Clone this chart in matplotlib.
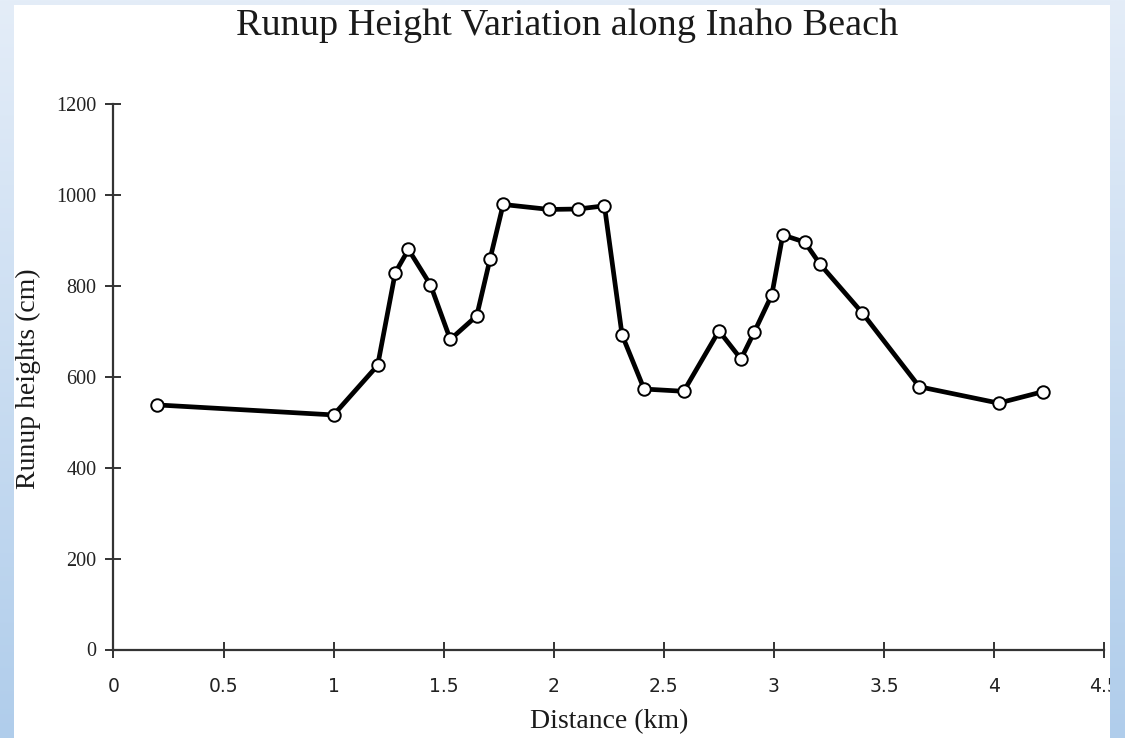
import matplotlib
matplotlib.use("Agg")
import matplotlib.pyplot as plt
import numpy as np
from matplotlib.patches import Rectangle

# ---- data ----
distance_km = [0.20, 1.00, 1.20, 1.28, 1.34, 1.44, 1.53, 1.65, 1.71, 1.77,
               1.98, 2.11, 2.23, 2.31, 2.41, 2.59, 2.75, 2.85, 2.91, 2.99,
               3.04, 3.14, 3.21, 3.40, 3.66, 4.02, 4.22]
runup_cm = [538, 516, 625, 829, 880, 802, 682, 734, 858, 979,
            968, 969, 976, 692, 573, 568, 701, 639, 698, 780,
            912, 896, 847, 741, 578, 542, 567]
x_ticks = [0, 0.5, 1, 1.5, 2, 2.5, 3, 3.5, 4, 4.5]
x_tick_labels = ['0', '0.5', '1', '1.5', '2', '2.5', '3', '3.5', '4', '4.5']
y_ticks = [0, 200, 400, 600, 800, 1000, 1200]
y_tick_labels = ['0', '200', '400', '600', '800', '1000', '1200']

W, H = 1125, 738
fig = plt.figure(figsize=(W / 100, H / 100), dpi=100)

# background gradient
top = np.array([228, 237, 248]) / 255
bot = np.array([176, 205, 235]) / 255
t = np.linspace(0, 1, 256)[:, None]
grad = (top * (1 - t) + bot * t)[:, None, :]
grad = np.repeat(grad, 2, axis=1)

bg = fig.add_axes([0, 0, 1, 1], zorder=-10)
bg.imshow(grad, extent=[0, 1, 0, 1], aspect='auto')
bg.set_xlim(0, 1); bg.set_ylim(0, 1)
bg.axis('off')
bg.add_patch(Rectangle((14 / W, 0), (1110 - 14) / W, (H - 5) / H,
                       facecolor='white', edgecolor='none'))

serif = ['Liberation Serif', 'DejaVu Serif']

ax = fig.add_axes([113.4 / W, 1 - 649.5 / H, (1104.3 - 113.4) / W, (649.5 - 104) / H])
ax.patch.set_alpha(0)
ax.plot(distance_km, runup_cm, '-o', color='black', lw=3.4, ms=9, 
        mfc='white', mec='black', mew=1.4, clip_on=False, zorder=3)
ax.set_xlim(0, 4.5)
ax.set_ylim(0, 1200)
for s in ['top', 'right']:
    ax.spines[s].set_visible(False)
for s in ['left', 'bottom']:
    ax.spines[s].set_linewidth(1.6)
    ax.spines[s].set_color('#333333')
ax.set_xticks(x_ticks)
ax.set_xticklabels(x_tick_labels, fontfamily='DejaVu Sans', fontsize=13.5, color='#222222')
ax.set_yticks(y_ticks)
ax.set_yticklabels(y_tick_labels, fontfamily=serif, fontsize=14.5, color='#222222')
ax.tick_params(axis='x', direction='inout', length=11, width=1.4, pad=14, color='#333333')
ax.tick_params(axis='y', direction='inout', length=12, width=1.4, pad=6, color='#333333')

fig.text(0.504, 1 - 26 / H, 'Runup Height Variation along Inaho Beach',
         ha='center', va='center', fontfamily=serif, fontsize=27.5, color='#1a1a1a')
fig.text(609 / W, 1 - 722 / H, 'Distance (km)', ha='center', va='center',
         fontfamily=serif, fontsize=20, color='#1a1a1a')
fig.text(28 / W, 1 - 379 / H, 'Runup heights (cm)', ha='center', va='center',
         rotation=90, fontfamily=serif, fontsize=20, color='#1a1a1a')

# right edge strip drawn above (cuts the last tick label as in the original)
rs = fig.add_axes([1110 / W, 0, 15 / W, 1], zorder=10)
rs.imshow(grad, extent=[0, 1, 0, 1], aspect='auto')
rs.axis('off')

fig.savefig('out.png', dpi=100)
